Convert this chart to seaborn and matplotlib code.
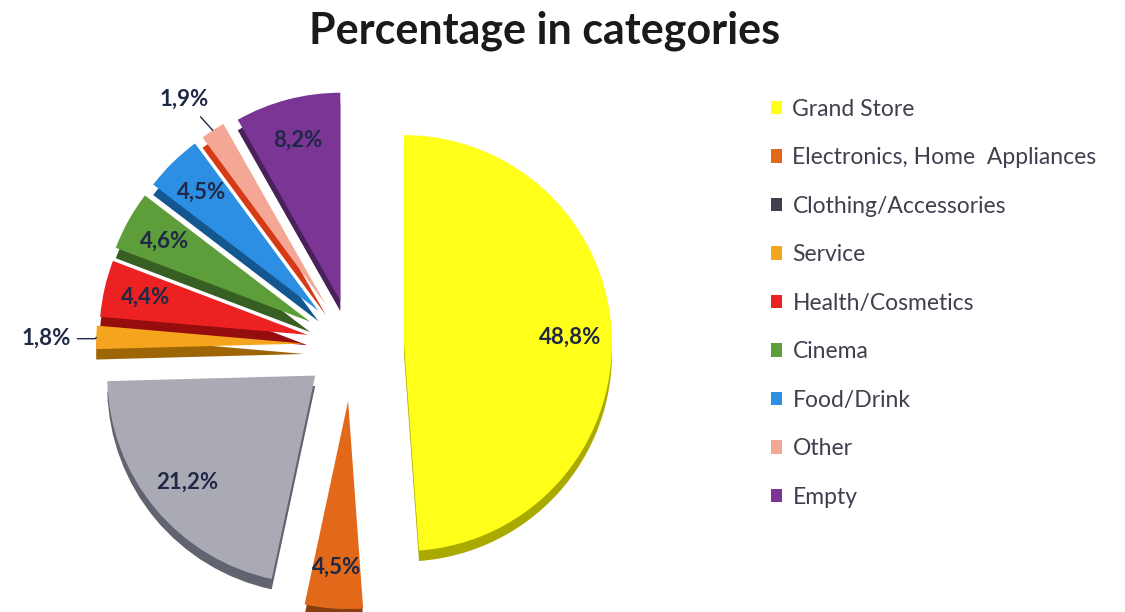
import numpy as np
import matplotlib
matplotlib.use("Agg")
import matplotlib.pyplot as plt
from matplotlib.patches import Patch
import seaborn as sns

categories = ["Grand Store", "Electronics, Home  Appliances", "Clothing/Accessories",
              "Service", "Health/Cosmetics", "Cinema", "Food/Drink", "Other", "Empty"]
values = [48.8, 4.5, 21.2, 1.8, 4.4, 4.6, 4.5, 1.9, 8.2]
labels = ["48,8%", "4,5%", "21,2%", "1,8%", "4,4%", "4,6%", "4,5%", "1,9%", "8,2%"]
slice_colors = ["#FFFF1A", "#E2691A", "#A9AAB4", "#F5A41E", "#EC2222",
                "#5E9E3A", "#2D8FE3", "#F4A795", "#7A3595"]
legend_colors = ["#FFFF1A", "#E2691A", "#3F3F4E", "#F5A41E", "#EC2222",
                 "#5E9E3A", "#2D8FE3", "#F4A795", "#7A3595"]
explode = [0.25, 0.27, 0.23, 0.23, 0.22, 0.23, 0.23, 0.23, 0.22]
outside = [False, False, False, True, False, False, False, True, False]

sns.set_theme(style="white")
plt.rcParams["font.family"] = ["Lato", "DejaVu Sans"]

W, H = 1125, 612
fig = plt.figure(figsize=(W / 100, H / 100), dpi=100)
ax = fig.add_axes([0, 0, 1, 1])

R = 208.0  # pixels per radius unit
cx, cy = 352.0, H - 345.0

shade = [sns.set_hls_values(c, l=max(0.0, sns.utils.colorsys.rgb_to_hls(*matplotlib.colors.to_rgb(c))[1] * 0.6))
         for c in slice_colors]

# 3D-like side (darker copy, shifted down)
ax.pie(values, colors=shade, explode=explode, startangle=90, counterclock=False,
       radius=1.0, center=(0, -0.05), wedgeprops=dict(linewidth=0))
wedges, _ = ax.pie(values, colors=slice_colors, explode=explode, startangle=90,
                   counterclock=False, radius=1.0, center=(0, 0),
                   wedgeprops=dict(linewidth=0))

txt_color = "#1F2845"
fs = 16
for w, lab, out, ex in zip(wedges, labels, outside, explode):
    mid = np.deg2rad((w.theta1 + w.theta2) / 2)
    wc = np.array(w.center)
    d = np.array([np.cos(mid), np.sin(mid)])
    if not out:
        p = wc + 0.8 * d
        ax.text(p[0], p[1], lab, ha="center", va="center", fontsize=fs,
                fontweight="bold", color=txt_color)
    else:
        edge = wc + 1.0 * d
        if abs(d[0]) > 0.9:
            tpos = wc + 1.12 * d
            ax.annotate(lab, xy=edge, xytext=(tpos[0], tpos[1] - 0.01),
                        ha="right", va="center", fontsize=fs, fontweight="bold",
                        color=txt_color,
                        arrowprops=dict(arrowstyle="-", color=txt_color, lw=1,
                                        connectionstyle="angle,angleA=0,angleB=60,rad=0",
                                        shrinkA=2, shrinkB=0))
        else:
            tpos = wc + 1.18 * d
            ax.annotate(lab, xy=edge, xytext=(tpos[0] + 0.08, tpos[1]),
                        ha="right", va="center", fontsize=fs, fontweight="bold",
                        color=txt_color,
                        arrowprops=dict(arrowstyle="-", color=txt_color, lw=1,
                                        shrinkA=4, shrinkB=0))

ax.set_xlim(-cx / R, (W - cx) / R)
ax.set_ylim(-cy / R, (H - cy) / R)
ax.set_aspect("equal")
ax.axis("off")

fig.text(545 / W, 1 - 31 / H, "Percentage in categories", ha="center", va="center",
         fontsize=31, fontweight="bold", color="#1A1A1A")

handles = [Patch(facecolor=c, edgecolor="none") for c in legend_colors]
fig.legend(handles, categories, loc="upper left", bbox_to_anchor=(750 / W, 1 - 78 / H),
           frameon=False, fontsize=16.5, handlelength=0.5, handleheight=0.5,
           handletextpad=0.45, labelspacing=1.2, labelcolor="#3F3F4E")

fig.savefig("out.png", dpi=100)
